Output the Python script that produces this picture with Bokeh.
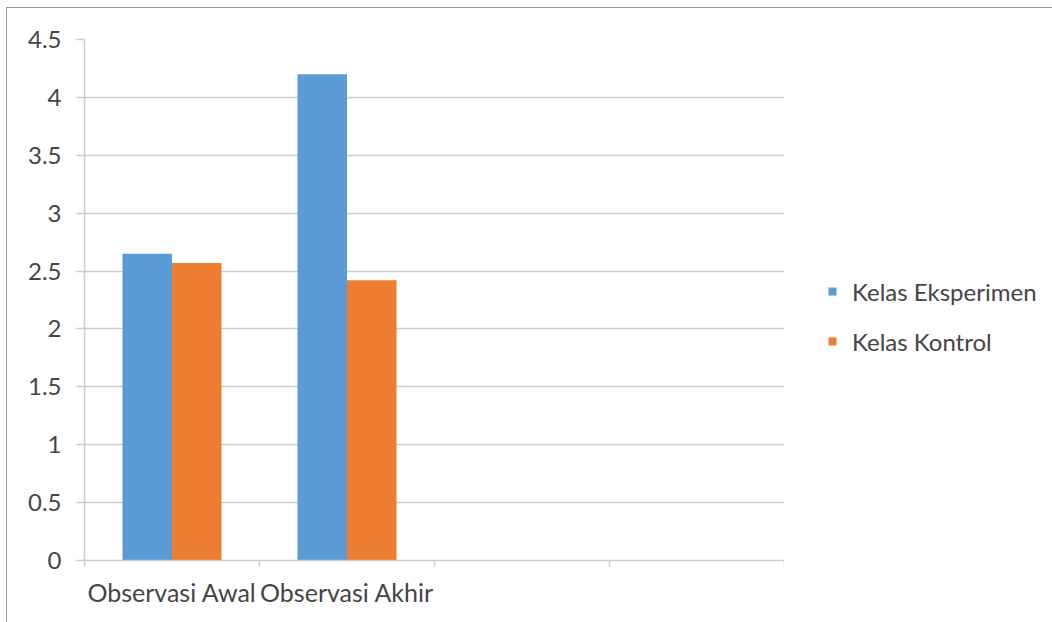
from bokeh.plotting import figure
from bokeh.layouts import row
from bokeh.models import (ColumnDataSource, Range1d, FixedTicker, CustomJSTickFormatter,
                          Legend, LegendItem)
from bokeh.transform import dodge
from bokeh.embed import file_html
from bokeh.resources import INLINE

# ---- data ----
categories = ["Observasi Awal", "Observasi Akhir", "", ""]
series_names = ["Kelas Eksperimen", "Kelas Kontrol"]
eksperimen = [2.65, 4.20]
kontrol = [2.57, 2.42]
y_ticks = [0, 0.5, 1, 1.5, 2, 2.5, 3, 3.5, 4, 4.5]

colors = ["#5B9BD5", "#ED7D31"]
FONT = "Lato"
TEXT = "#454545"
GRID = "#cccccc"

xc = [i + 0.5 for i in range(len(eksperimen))]
src = ColumnDataSource(dict(x=xc, eks=eksperimen, kon=kontrol))

p = figure(width=777, height=614, output_backend="svg", toolbar_location=None,
           x_range=Range1d(0, len(categories)), y_range=Range1d(0, y_ticks[-1]),
           min_border_left=77, min_border_right=0, min_border_top=31, min_border_bottom=62)
p.outline_line_color = None
p.background_fill_color = "white"
p.border_fill_color = "white"

bw = 0.283
r1 = p.vbar(x=dodge("x", -bw / 2, range=p.x_range), top="eks", width=bw, source=src,
            fill_color=colors[0], line_color=None)
r2 = p.vbar(x=dodge("x", bw / 2, range=p.x_range), top="kon", width=bw, source=src,
            fill_color=colors[1], line_color=None)

# y axis
p.yaxis.ticker = FixedTicker(ticks=y_ticks)
p.yaxis.formatter = CustomJSTickFormatter(code="return tick.toString();")
p.yaxis.axis_line_color = GRID
p.yaxis.axis_line_width = 1.5
p.yaxis.major_tick_line_color = GRID
p.yaxis.major_tick_line_width = 1.5
p.yaxis.major_tick_out = 8
p.yaxis.major_tick_in = 0
p.yaxis.minor_tick_line_color = None
p.yaxis.major_label_standoff = 15
p.yaxis.major_label_text_font = FONT
p.yaxis.major_label_text_font_size = "24px"
p.yaxis.major_label_text_color = TEXT

# x axis: labels at category centres, ticks at boundaries
p.xaxis.ticker = FixedTicker(ticks=[i + 0.5 for i in range(len(categories))],
                             minor_ticks=list(range(len(categories) + 1)))
p.xaxis.formatter = CustomJSTickFormatter(args=dict(cats=categories),
                                          code="return cats[Math.floor(tick)];")
p.xaxis.axis_line_color = GRID
p.xaxis.axis_line_width = 1.5
p.xaxis.major_tick_line_color = None
p.xaxis.major_tick_out = 0
p.xaxis.major_tick_in = 0
p.xaxis.minor_tick_line_color = GRID
p.xaxis.minor_tick_line_width = 1.5
p.xaxis.minor_tick_out = 6
p.xaxis.minor_tick_in = 0
p.xaxis.major_label_standoff = 10
p.xaxis.major_label_text_font = FONT
p.xaxis.major_label_text_font_size = "25px"
p.xaxis.major_label_text_color = TEXT

p.xgrid.grid_line_color = None
p.ygrid.ticker = FixedTicker(ticks=y_ticks)
p.ygrid.grid_line_color = GRID
p.ygrid.grid_line_width = 1.5

# legend panel (separate figure so the legend is not clipped by the bar frame)
pl = figure(width=268, height=614, output_backend="svg", toolbar_location=None,
            x_axis_type=None, y_axis_type=None, x_range=Range1d(0, 1), y_range=Range1d(0, 1),
            min_border=0)
pl.outline_line_color = None
pl.xgrid.grid_line_color = None
pl.ygrid.grid_line_color = None
pl.border_fill_color = "white"
# legend swatches: zero-height bars, nothing drawn in the panel itself
l1 = pl.vbar(x=[-10], top=[0], bottom=[0], width=0.1, fill_color=colors[0], line_color=None)
l2 = pl.vbar(x=[-10], top=[0], bottom=[0], width=0.1, fill_color=colors[1], line_color=None)
legend = Legend(items=[LegendItem(label=series_names[0], renderers=[l1]),
                       LegendItem(label=series_names[1], renderers=[l2])],
                location=(43, 204), orientation="vertical",
                glyph_width=10, glyph_height=10, label_height=30, spacing=20,
                label_standoff=15, padding=0, margin=0,
                border_line_color=None, background_fill_alpha=0,
                label_text_font=FONT, label_text_font_size="24px", label_text_color=TEXT)
pl.add_layout(legend, "center")

layout = row(p, pl, spacing=0)
layout.margin = (7, 0, 0, 6)
layout.styles = {"border-top": "1px solid #9c9c9c", "border-left": "1px solid #9c9c9c",
                 "background-color": "white"}

open("out.html", "w").write(file_html(layout, INLINE))
